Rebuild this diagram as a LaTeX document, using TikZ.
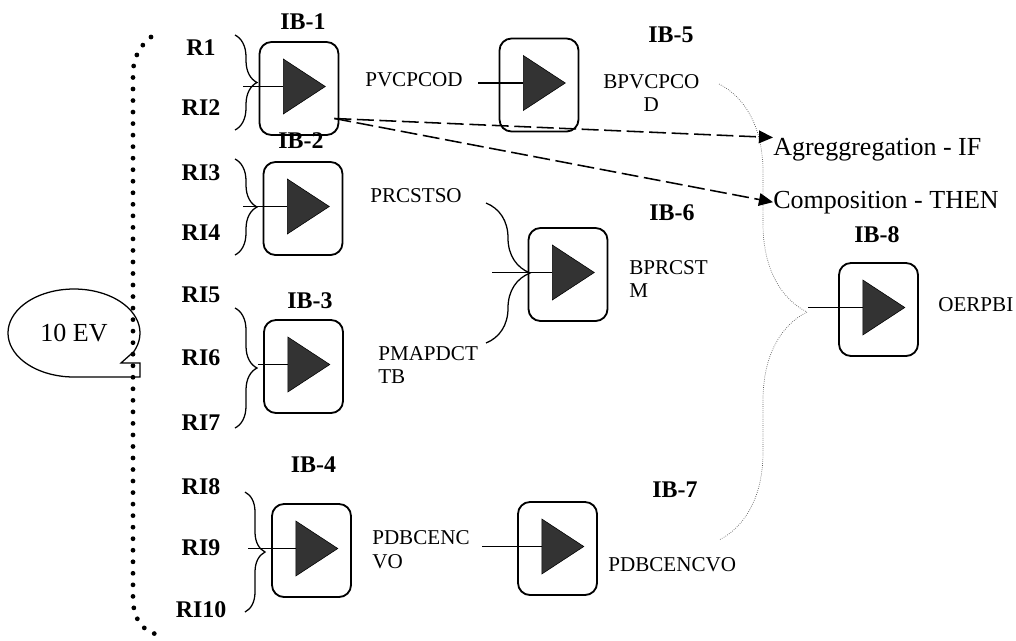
\documentclass[tikz,border=0pt]{standalone}
\usepackage{fontspec}
\setmainfont{Liberation Serif}
\usetikzlibrary{shapes.geometric,arrows.meta,decorations.pathreplacing}

\begin{document}
\begin{tikzpicture}[x=0.025cm,y=-0.025cm,
    box/.style={draw,line width=1.3pt,rounded corners=0.3cm,minimum width=1.975cm,minimum height=2.325cm},
    tri/.style={isosceles triangle,isosceles triangle stretches,draw,fill=black!80,inner sep=0pt,
        minimum width=1.375cm,minimum height=1.05cm,anchor=lower side},
    ttl/.style={font=\fontsize{17}{20}\selectfont\bfseries,inner sep=0pt},
    lab/.style={font=\fontsize{15}{17}\selectfont,inner sep=0pt,align=left,anchor=west},
    big/.style={font=\fontsize{18.5}{22}\selectfont,inner sep=0pt},
    brc/.style={decorate,decoration={brace,amplitude=#1},line width=0.9pt},
    wire/.style={line width=1.3pt},
    dots/.style={line width=3.4pt,line cap=round,dash pattern=on 0pt off 8.2pt},
    dash arrow/.style={line width=1.1pt,dash pattern=on 12pt off 4pt,-{Triangle[length=10pt,width=9pt]}}]
    \useasboundingbox (0,0) rectangle (1016,640);

    % the event callout and the dotted bracket
    \draw[line width=0.9pt] plot[smooth,domain=90:385,samples=60]({74+66*cos(\x)},{333+44*sin(\x)})
        -- (121,363) -- (140,363) -- (140,377) -- cycle;
    \node[big] (ev) at (74,333) {10 EV};
    \draw[dots] (151,37) .. controls (139,47) and (133,58) .. (133,75) -- (133,598)
        .. controls (133,618) and (142,632) .. (160,635);

    % blocks
    \node[box] (b1) at (299,88.5) {};
    \node[box] (b2) at (303,208.5) {};
    \node[box] (b3) at (303.5,366.5) {};
    \node[box] (b4) at (311.5,550.5) {};
    \node[box] (b5) at (539,85) {};
    \node[box] (b6) at (568,274.5) {};
    \node[box] (b7) at (557.5,548.5) {};
    \node[box] (b8) at (878.5,309.5) {};
    \foreach \i in {1,...,8}
        \node[tri] (t\i) at ([shift={(-16,-2)}]b\i.center) {};

    \node[ttl] (l1) at (303,21.5) {IB-1};
    \node[ttl] (l2) at (301,141) {IB-2};
    \node[ttl] (l3) at (310,300.5) {IB-3};
    \node[ttl] (l4) at (313.5,464.5) {IB-4};
    \node[ttl] (l5) at (671,35) {IB-5};
    \node[ttl] (l6) at (672,213) {IB-6};
    \node[ttl] (l7) at (675,490) {IB-7};
    \node[ttl] (l8) at (877,235) {IB-8};

    % inputs
    \foreach \t/\y [count=\i] in {R1/47.5,RI2/108,RI3/172.5,RI4/232.5,RI5/294.5,
                                  RI6/358,RI7/423,RI8/487,RI9/548,RI10/610}
        \node[ttl] (r\i) at (201,\y) {\t};

    \node[lab] (p5) at (365,80) {PVCPCOD};
    \node[lab,align=center] (o5) at (603,93) {BPVCPCO\\D};
    \node[lab] (p6) at (370,196) {PRCSTSO};
    \node[lab] (q6) at (378,365) {PMAPDCT\\TB};
    \node[lab] (o6) at (629,279) {BPRCST\\M};
    \node[lab] (p7) at (372,550) {PDBCENC\\VO};
    \node[lab] (o7) at (608,565) {PDBCENCVO};
    \node[lab] (o8) at (938,305) {OERPBI};
    \node[big,anchor=base west] (agg) at (773,155) {Agreggregation - IF};
    \node[big,anchor=base west] (comp) at (773,208) {Composition - THEN};

    % braces
    \draw[brc=0.55cm] (235,35) -- (235,130);
    \draw[brc=0.55cm] (235,159) -- (235,255);
    \draw[brc=0.55cm] (235,308) -- (235,428);
    \draw[brc=0.5cm] (245,492) -- (245,612);
    \draw[brc=1.1cm] (486,203) -- (486,343);
    \draw[brc=2.2cm,black!65,line width=0.5pt,densely dotted] (719,84) -- (719,540);

    % wires
    \coordinate (k1) at (243,83);
    \coordinate (k2) at (243,206);
    \coordinate (k3) at (258,368);
    \coordinate (k4) at (248,551);
    \coordinate (k5) at (478,83);
    \coordinate (k6) at (492,277);
    \coordinate (k7) at (482,547);
    \coordinate (k8) at (808,312);
    \foreach \i in {1,...,8}
        \draw[wire] (k\i |- t\i.lower side) -- (t\i.lower side);

    \coordinate (s1) at ([shift={(-5,30)}]b1.east);
    \draw[dash arrow] (s1) -- (agg.north west);
    \draw[dash arrow] (s1) -- (comp.west);
\end{tikzpicture}
\end{document}
